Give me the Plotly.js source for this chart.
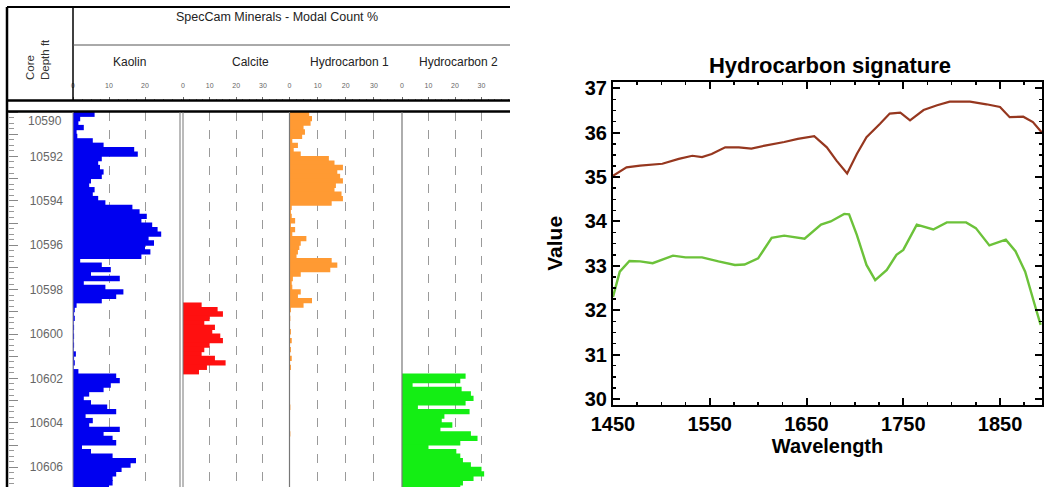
<!DOCTYPE html>
<html>
<head>
<meta charset="utf-8">
<script src="https://cdn.plot.ly/plotly-3.0.1.min.js"></script>
<style>html,body{margin:0;padding:0;background:#fff;}#chart{width:1045px;height:487px;}</style>
</head>
<body>
<div id="chart"></div>
<script>
// ---------------- DATA ----------------
// Left panel: SpecCam mineral log (depth in ft, 0.2 ft intervals, modal count %)
const depthFt = [10590.0,10590.2,10590.4,10590.6,10590.8,10591.0,10591.2,10591.4,10591.6,10591.8,
  10592.0,10592.2,10592.4,10592.6,10592.8,10593.0,10593.2,10593.4,10593.6,10593.8,
  10594.0,10594.2,10594.4,10594.6,10594.8,10595.0,10595.2,10595.4,10595.6,10595.8,
  10596.0,10596.2,10596.4,10596.6,10596.8,10597.0,10597.2,10597.4,10597.6,10597.8,
  10598.0,10598.2,10598.4,10598.6,10598.8,10599.0,10599.2,10599.4,10599.6,10599.8,
  10600.0,10600.2,10600.4,10600.6,10600.8,10601.0,10601.2,10601.4,10601.6,10601.8,
  10602.0,10602.2,10602.4,10602.6,10602.8,10603.0,10603.2,10603.4,10603.6,10603.8,
  10604.0,10604.2,10604.4,10604.6,10604.8,10605.0,10605.2,10605.4,10605.6,10605.8,
  10606.0,10606.2,10606.4,10606.6,10606.8];
const kaolin = [6,2,1.5,3,1,1.2,5.5,8.5,17,18,
  8,7,7.5,8.5,8,5,4.5,6,5.5,7,
  9,16.5,18.5,20.5,19,22,23.5,24.5,21,22.5,
  20,21.5,19,2,8,10.5,5,13,3,9,
  14,12,8,1,0.5,0.3,0.5,0.2,0.3,0.2,
  0.3,0.2,0.3,0.2,0.8,0.3,0.5,0.2,1.5,12,
  13,10.5,8.5,4.5,3,5,9.5,12,3.5,5.5,
  4.5,13,8.5,11,12,2.5,5,11,17.5,16,
  13.5,12,11,11,10];
const calcite = [0,0,0,0,0,0,0,0,0,0,
  0,0,0,0,0,0,0,0,0,0,
  0,0,0,0,0,0,0,0,0,0,
  0,0,0,0,0,0,0,0,0,0,
  0,0,0,7,13,15,10,8,12,11,
  14,15,10,8,7,12,16,9,6,0,
  0,0,0,0,0,0,0,0,0,0,
  0,0,0,0,0,0,0,0,0,0,
  0,0,0,0,0];
const hydrocarbon1 = [7,8,7.5,5,5.5,4.5,1,3,1.5,4,
  14,16,19,17,18,19,16.5,16,18.5,19,
  15,0.8,0.5,0.8,2,0.5,2,1,6,4,
  3.5,3,2.5,15,17,14.5,4,1.2,0.8,1,
  4,3,8,5,0.5,0,0.3,0,0,0.5,
  0,0.8,0,0.5,0,0.8,0,0.5,0,0,
  0,0,0,0,0,0,0.3,0,0,0,
  0,0,0.3,0,0,0,0,0,0,0,
  0,0,0,0,0];
const hydrocarbon2 = [0,0,0,0,0,0,0,0,0,0,
  0,0,0,0,0,0,0,0,0,0,
  0,0,0,0,0,0,0,0,0,0,
  0,0,0,0,0,0,0,0,0,0,
  0,0,0,0,0,0,0,0,0,0,
  0,0,0,0,0,0,0,0,0,24,
  22,4,22.5,26,27,24,6,25.5,16,15,
  19,14.5,26,28.5,22,10,20.5,22,23,26,
  30,31,27,23,22];
const depthTicks = [10592,10594,10596,10598,10600,10602,10604,10606];
const depthTopLabel = "10590";
const trackNames = ["Kaolin","Calcite","Hydrocarbon 1","Hydrocarbon 2"];
const trackColors = ["#0000f0","#ff1010","#ff9a33","#14ee14"];
const kaolinScaleTicks = [0,10,20];
const otherScaleTicks = [0,10,20,30];
const headerTitle = "SpecCam Minerals - Modal Count %";
const depthHeader = "Core<br>Depth ft";

// Right panel: Hydrocarbon signature spectra
const wavelengthUpper = [1450,1464,1478,1501,1518,1532,1542,1552,1566,1580,1593,1607,1627,1641,1658,1671,1681,1692,1702,1712,1726,1736,1747,1757,1771,1785,1798,1819,1836,1850,1860,1874,1884,1893];
const valueUpper = [35.03,35.22,35.26,35.30,35.41,35.48,35.45,35.52,35.67,35.67,35.64,35.71,35.79,35.86,35.92,35.67,35.37,35.08,35.52,35.90,36.20,36.43,36.45,36.28,36.51,36.62,36.70,36.70,36.64,36.58,36.35,36.36,36.24,36.01];
const wavelengthLower = [1450,1457,1467,1478,1491,1512,1525,1542,1559,1576,1586,1600,1614,1627,1648,1665,1675,1689,1694,1702,1712,1721,1733,1743,1750,1764,1781,1795,1815,1825,1839,1856,1866,1876,1887,1892];
const valueLower = [32.30,32.87,33.11,33.10,33.06,33.23,33.19,33.19,33.10,33.02,33.03,33.17,33.63,33.68,33.61,33.93,34.00,34.17,34.16,33.70,33.02,32.68,32.91,33.25,33.36,33.93,33.82,33.98,33.98,33.85,33.46,33.59,33.33,32.87,32.04,31.67];

// ---------------- GEOMETRY HELPERS ----------------
const W = 1045, H = 487;
const PX = v => v / W;
const PY = v => 1 - v / H;
const BOLD = {family: "Liberation Sans, Arial, sans-serif", weight: "bold", color: "#000"};
const REG = "Liberation Sans, Arial, sans-serif";

// track geometry (pixels)
const trackX = [[73,181],[183,289.5],[289.5,402],[402,508]];
const trackRange = [[0,30],[0,40],[0,40],[0,40]];
const dataTop = 112, dataBottom = 487;

// ---------------- TRACES ----------------
const logs = [kaolin, calcite, hydrocarbon1, hydrocarbon2];
const traces = [];
logs.forEach((vals, i) => {
  traces.push({
    type: "bar", orientation: "h",
    x: vals, y: depthFt, width: 0.24, offset: -0.02,
    xaxis: i === 0 ? "x" : "x" + (i + 1), yaxis: "y",
    marker: {color: trackColors[i], line: {width: 0}},
    hoverinfo: "x+y"
  });
});
// header scale axes (empty carriers)
for (let i = 0; i < 4; i++) {
  traces.push({type: "scatter", mode: "lines", x: [], y: [], xaxis: "x" + (i + 6), yaxis: "y", hoverinfo: "skip"});
}
// depth dash axis carrier
traces.push({type: "scatter", mode: "lines", x: [], y: [], xaxis: "x", yaxis: "y3", hoverinfo: "skip"});

// spectra
traces.push({type: "scatter", mode: "lines", x: wavelengthUpper, y: valueUpper, xaxis: "x5", yaxis: "y2",
  line: {color: "#96371f", width: 2.2}});
traces.push({type: "scatter", mode: "lines", x: wavelengthLower, y: valueLower, xaxis: "x5", yaxis: "y2",
  line: {color: "#6cc23a", width: 2.4}});

// ---------------- LAYOUT ----------------
function trackAxis(i) {
  return {
    domain: [PX(trackX[i][0]), PX(trackX[i][1])], range: trackRange[i], anchor: "y",
    showgrid: true, gridcolor: "#9a9a9a", griddash: "dash", gridwidth: 1, dtick: 10, tick0: 0,
    showticklabels: false, ticks: "", zeroline: false, showline: false, fixedrange: true
  };
}
function scaleAxis(i) {
  const tv = i === 0 ? kaolinScaleTicks : otherScaleTicks;
  return {
    overlaying: i === 0 ? "x" : "x" + (i + 1), anchor: "free", position: PY(100.5), side: "top",
    range: trackRange[i], tickvals: tv, ticktext: tv.map(String),
    ticks: "outside", ticklen: 4, tickcolor: "#666", tickwidth: 1,
    minor: {dtick: 2.5, tick0: 0, ticks: "outside", ticklen: 2, tickcolor: "#888"},
    tickfont: {size: 7, color: "#666"}, ticklabelstandoff: 6,
    showgrid: false, zeroline: false, showline: false
  };
}

const lineShape = (x0, y0, x1, y1, color, width) => ({
  type: "line", xref: "paper", yref: "paper", x0: PX(x0), y0: PY(y0), x1: PX(x1), y1: PY(y1),
  line: {color: color, width: width}
});

const shapes = [
  lineShape(7, 7, 510, 7, "#000", 2),
  lineShape(7, 7, 7, 487, "#000", 2.5),
  lineShape(73, 7, 73, 101, "#000", 1.5),
  lineShape(73, 45, 510, 45, "#555", 1),
  lineShape(7, 100.5, 510, 100.5, "#000", 2.5),
  lineShape(7, 111.5, 510, 111.5, "#000", 2.5),
  lineShape(73, dataTop, 73, dataBottom, "#888", 1),
  lineShape(180, dataTop, 180, dataBottom, "#777", 1),
  lineShape(183, dataTop, 183, dataBottom, "#777", 1),
  lineShape(289.5, dataTop, 289.5, dataBottom, "#777", 1.2),
  lineShape(402, dataTop, 402, dataBottom, "#777", 1.2)
];

const trackLabelX = [129, 250, 349, 458];
const ann = (text, x, y, size, color, extra) => Object.assign({
  text: text, x: PX(x), y: PY(y), xref: "paper", yref: "paper", showarrow: false,
  xanchor: "center", yanchor: "middle", font: {size: size, color: color, family: REG}
}, extra || {});
const annotations = [
  ann(headerTitle, 277, 17, 12.5, "#222"),
  ann(depthHeader, 37, 60, 11.5, "#333", {textangle: -90, align: "left"}),
  ann(depthTopLabel, 45, 121, 12, "#666")
];
trackNames.forEach((t, i) => annotations.push(ann(t, trackLabelX[i], 62, 12, "#222")));

const layout = {
  width: W, height: H, margin: {l: 0, r: 0, t: 0, b: 0, pad: 0},
  paper_bgcolor: "#fff", plot_bgcolor: "rgba(0,0,0,0)", showlegend: false, barmode: "overlay",
  font: {family: REG, color: "#000"},
  xaxis: trackAxis(0), xaxis2: trackAxis(1), xaxis3: trackAxis(2), xaxis4: trackAxis(3),
  xaxis6: scaleAxis(0), xaxis7: scaleAxis(1), xaxis8: scaleAxis(2), xaxis9: scaleAxis(3),
  yaxis: {
    domain: [PY(dataBottom), PY(dataTop)], range: [10590 + (dataBottom - dataTop) / 22.2, 10590],
    type: "linear", anchor: "x", side: "left", tickvals: depthTicks, ticktext: depthTicks.map(String),
    ticks: "", ticklabelstandoff: 9, tickfont: {size: 12, color: "#666"},
    showgrid: false, zeroline: false, showline: false
  },
  yaxis3: {
    overlaying: "y", anchor: "free", position: PX(8), side: "right",
    range: [10590 + (dataBottom - dataTop) / 22.2, 10590], type: "linear",
    tick0: 10590, dtick: 1, ticks: "outside", ticklen: 9, tickcolor: "#888",
    minor: {dtick: 0.25, ticks: "outside", ticklen: 5, tickcolor: "#999"},
    showticklabels: false, showgrid: false, zeroline: false, showline: false
  },
  xaxis5: {
    domain: [PX(613), PX(1042)], range: [1450, 1893.4], anchor: "y2",
    tickvals: [1450, 1550, 1650, 1750, 1850], ticks: "inside", ticklen: 7, tickwidth: 2, tickcolor: "#000",
    minor: {dtick: 25, tick0: 1450, ticks: "inside", ticklen: 3, tickwidth: 1.5, tickcolor: "#000"},
    showline: true, linecolor: "#000", linewidth: 2, mirror: "ticks",
    showgrid: false, zeroline: false,
    tickfont: Object.assign({size: 20}, BOLD),
    title: {text: "Wavelength", font: Object.assign({size: 20}, BOLD), standoff: 1}
  },
  yaxis2: {
    domain: [PY(405), PY(81.7)], range: [29.865, 37.149], anchor: "x5",
    dtick: 1, tick0: 30, ticks: "inside", ticklen: 7, tickwidth: 2, tickcolor: "#000",
    minor: {dtick: 0.25, ticks: "inside", ticklen: 3, tickwidth: 1.5, tickcolor: "#000"},
    showline: true, linecolor: "#000", linewidth: 2, mirror: "ticks",
    showgrid: false, zeroline: false,
    tickfont: Object.assign({size: 20}, BOLD),
    title: {text: "Value", font: Object.assign({size: 21}, BOLD), standoff: 16}
  },
  title: {
    text: "Hydrocarbon signature", x: PX(830), xref: "paper", xanchor: "center",
    y: PY(65), yref: "paper", yanchor: "middle", font: Object.assign({size: 22}, BOLD)
  },
  shapes: shapes,
  annotations: annotations
};

Plotly.newPlot("chart", traces, layout, {staticPlot: true, displayModeBar: false});
</script>
</body>
</html>
